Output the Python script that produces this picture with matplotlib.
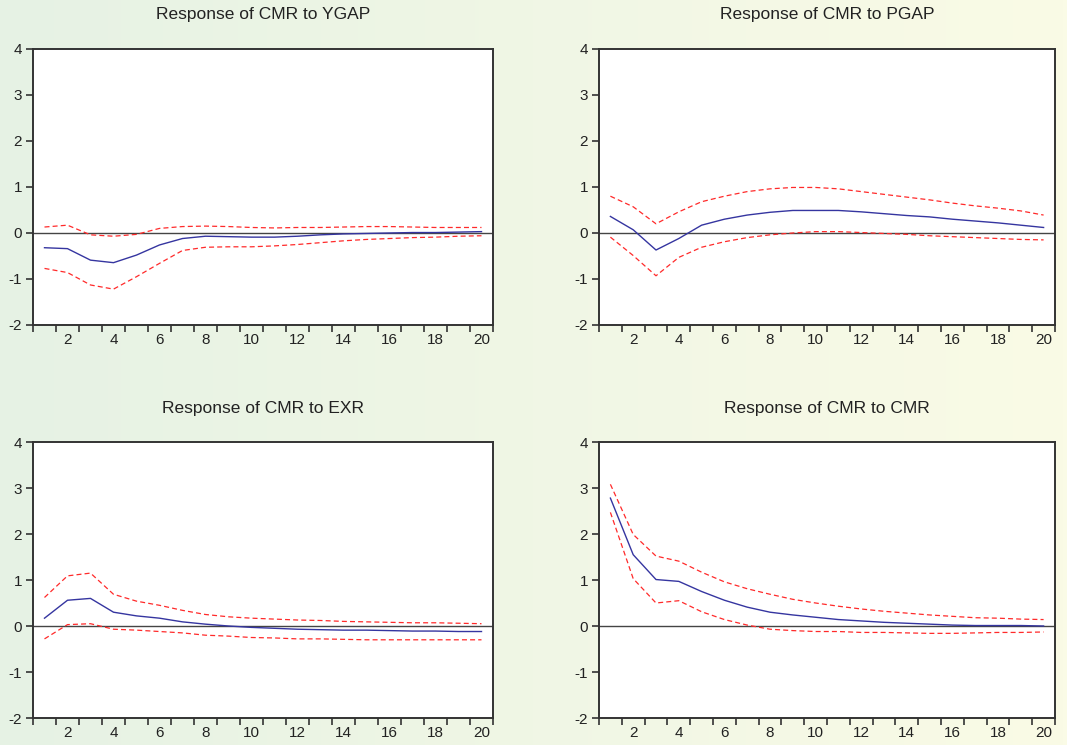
import numpy as np
import matplotlib
matplotlib.use("Agg")
import matplotlib.pyplot as plt
from matplotlib.ticker import MultipleLocator, FixedLocator

plt.rcParams['font.family'] = ['Liberation Sans', 'DejaVu Sans']
plt.rcParams['axes.unicode_minus'] = False

periods = list(range(1, 21))

titles = ["Response of CMR to YGAP", "Response of CMR to PGAP",
          "Response of CMR to EXR", "Response of CMR to CMR"]

ygap_irf = [-0.32, -0.34, -0.59, -0.645, -0.48, -0.26, -0.12, -0.07, -0.08, -0.09,
            -0.09, -0.07, -0.04, -0.02, -0.01, 0.0, 0.01, 0.01, 0.02, 0.03]
ygap_up = [0.13, 0.17, -0.04, -0.07, -0.03, 0.10, 0.14, 0.15, 0.14, 0.12,
           0.11, 0.12, 0.12, 0.13, 0.14, 0.14, 0.13, 0.12, 0.12, 0.12]
ygap_lo = [-0.77, -0.86, -1.13, -1.22, -0.95, -0.66, -0.38, -0.31, -0.30, -0.30,
           -0.28, -0.25, -0.21, -0.17, -0.14, -0.12, -0.10, -0.09, -0.07, -0.06]

pgap_irf = [0.36, 0.07, -0.37, -0.12, 0.17, 0.30, 0.39, 0.45, 0.49, 0.49,
            0.49, 0.46, 0.42, 0.38, 0.35, 0.30, 0.26, 0.22, 0.17, 0.12]
pgap_up = [0.80, 0.57, 0.20, 0.46, 0.68, 0.80, 0.90, 0.96, 0.99, 0.99,
           0.96, 0.90, 0.84, 0.78, 0.72, 0.65, 0.59, 0.54, 0.48, 0.39]
pgap_lo = [-0.09, -0.49, -0.93, -0.53, -0.31, -0.19, -0.10, -0.04, 0.0, 0.03,
           0.03, 0.01, -0.01, -0.03, -0.06, -0.08, -0.10, -0.12, -0.14, -0.15]

exr_irf = [0.17, 0.56, 0.60, 0.30, 0.22, 0.17, 0.09, 0.04, 0.0, -0.03,
           -0.05, -0.07, -0.08, -0.09, -0.09, -0.10, -0.11, -0.11, -0.12, -0.12]
exr_up = [0.62, 1.09, 1.15, 0.69, 0.54, 0.45, 0.34, 0.25, 0.20, 0.17,
          0.15, 0.13, 0.12, 0.10, 0.09, 0.08, 0.07, 0.07, 0.06, 0.05]
exr_lo = [-0.28, 0.03, 0.05, -0.07, -0.09, -0.12, -0.15, -0.20, -0.22, -0.25,
          -0.26, -0.28, -0.28, -0.29, -0.30, -0.30, -0.30, -0.30, -0.30, -0.30]

cmr_irf = [2.78, 1.55, 1.01, 0.97, 0.75, 0.56, 0.41, 0.30, 0.24, 0.19,
           0.14, 0.11, 0.08, 0.06, 0.04, 0.02, 0.01, 0.01, 0.01, 0.0]
cmr_up = [3.08, 1.99, 1.52, 1.41, 1.17, 0.96, 0.81, 0.69, 0.58, 0.50,
          0.43, 0.37, 0.32, 0.28, 0.24, 0.21, 0.18, 0.17, 0.15, 0.14]
cmr_lo = [2.47, 1.03, 0.50, 0.55, 0.31, 0.14, 0.02, -0.07, -0.10, -0.12,
          -0.12, -0.14, -0.14, -0.15, -0.16, -0.16, -0.15, -0.14, -0.14, -0.13]

series = [(ygap_irf, ygap_up, ygap_lo), (pgap_irf, pgap_up, pgap_lo),
          (exr_irf, exr_up, exr_lo), (cmr_irf, cmr_up, cmr_lo)]

W, H = 1067, 745
fig = plt.figure(figsize=(W / 100, H / 100), dpi=100)

# gradient background
bg = fig.add_axes([0, 0, 1, 1], zorder=-10)
grad = np.linspace(0, 1, 256)
c0 = np.array([230, 242, 228]) / 255
c1 = np.array([250, 251, 230]) / 255
img = c0[None, :] + (c1 - c0)[None, :] * grad[:, None]
bg.imshow(img[None, :, :], aspect='auto', extent=[0, 1, 0, 1])
bg.set_axis_off()

# axes boxes in pixels: (left, top, right, bottom)
boxes = [(33, 49, 493, 325), (599, 49, 1055, 325),
         (33, 442, 493, 718), (599, 442, 1055, 718)]
title_y = [15, 408]

for i, (box, title, (irf, up, lo)) in enumerate(zip(boxes, titles, series)):
    l, t, r, b = box
    ax = fig.add_axes([l / W, 1 - b / H, (r - l) / W, (b - t) / H])
    ax.set_facecolor('white')
    ax.axhline(0, color='#444444', lw=1.0, zorder=1)
    ax.plot(periods, up, color='#ff2a2a', lw=0.9, ls=(0, (4, 2.5)), zorder=2)
    ax.plot(periods, lo, color='#ff2a2a', lw=0.9, ls=(0, (4, 2.5)), zorder=2)
    ax.plot(periods, irf, color='#3535a0', lw=1.0, zorder=3)
    ax.set_xlim(0.5, 20.5)
    ax.set_ylim(-2, 4)
    ax.xaxis.set_major_locator(FixedLocator(list(range(2, 21, 2))))
    ax.xaxis.set_minor_locator(FixedLocator([x + 0.5 for x in range(0, 21)]))
    ax.yaxis.set_major_locator(MultipleLocator(1))
    ax.tick_params(axis='x', which='major', length=0, pad=6, labelsize=11, colors='#222222')
    ax.tick_params(axis='x', which='minor', length=5, width=1.2, direction='out', color='#333333')
    ax.tick_params(axis='y', which='major', length=5, width=1.2, direction='out',
                   labelsize=11, color='#333333', labelcolor='#222222', pad=3)
    for s in ax.spines.values():
        s.set_color('#333333')
        s.set_linewidth(1.4)
    cx = (l + r) / 2
    fig.text(cx / W, 1 - title_y[i // 2] / H, title, ha='center', va='center',
             fontsize=12.5, color='#222222')

fig.savefig('out.png', dpi=100)
